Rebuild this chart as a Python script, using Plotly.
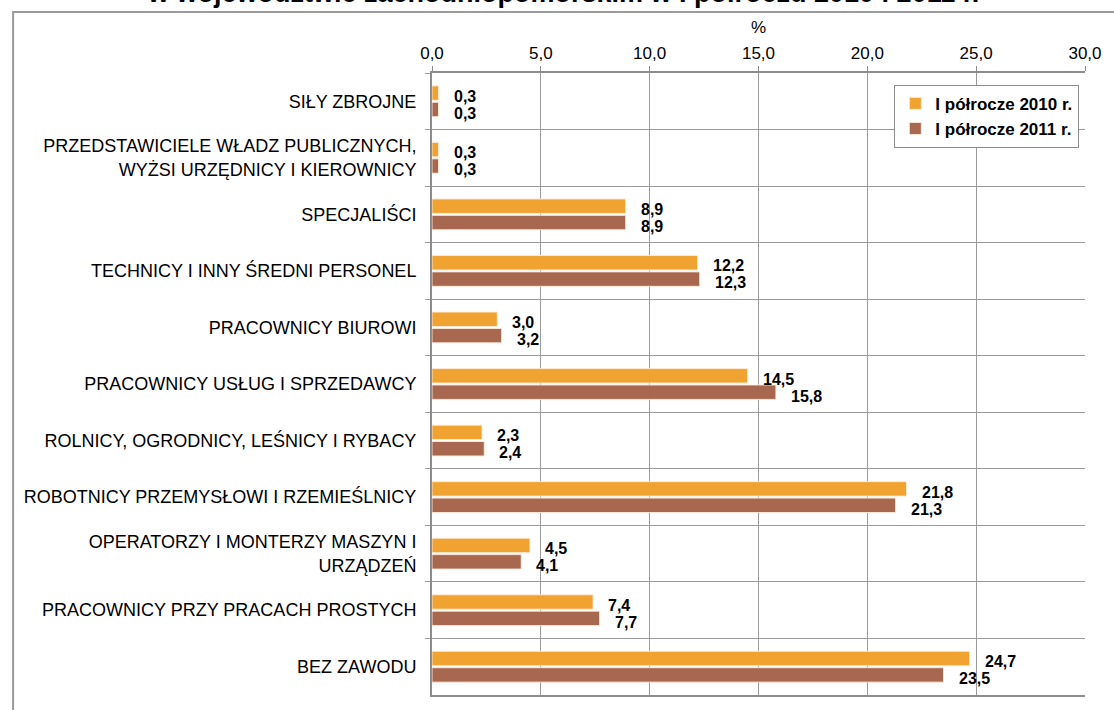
import plotly.graph_objects as go

categories = [
    "SIŁY ZBROJNE",
    "PRZEDSTAWICIELE WŁADZ PUBLICZNYCH,<br>WYŻSI URZĘDNICY I KIEROWNICY",
    "SPECJALIŚCI",
    "TECHNICY I INNY ŚREDNI PERSONEL",
    "PRACOWNICY BIUROWI",
    "PRACOWNICY USŁUG I SPRZEDAWCY",
    "ROLNICY, OGRODNICY, LEŚNICY I RYBACY",
    "ROBOTNICY PRZEMYSŁOWI I RZEMIEŚLNICY",
    "OPERATORZY I MONTERZY MASZYN I<br>URZĄDZEŃ",
    "PRACOWNICY PRZY PRACACH PROSTYCH",
    "BEZ ZAWODU",
]
values_2010 = [0.3, 0.3, 8.9, 12.2, 3.0, 14.5, 2.3, 21.8, 4.5, 7.4, 24.7]
values_2011 = [0.3, 0.3, 8.9, 12.3, 3.2, 15.8, 2.4, 21.3, 4.1, 7.7, 23.5]
series_names = ["I półrocze 2010 r.", "I półrocze 2011 r."]
x_ticks = [0, 5, 10, 15, 20, 25, 30]
title_text = "w województwie zachodniopomorskim w I półroczu 2010 i 2011 r."

C2010 = "#F0A330"
C2011 = "#A86850"
FONT = "Liberation Sans, Arial, sans-serif"

fig = go.Figure()
fig.add_trace(go.Bar(
    y=categories, x=values_2010, orientation="h", name=series_names[0],
    marker=dict(color=C2010, line=dict(color="rgba(255,235,220,0.9)", width=1)),
))
fig.add_trace(go.Bar(
    y=categories, x=values_2011, orientation="h", name=series_names[1],
    marker=dict(color=C2011, line=dict(color="rgba(255,235,220,0.9)", width=1)),
))

def fmt(v):
    return f"{v:.1f}".replace(".", ",")

annotations = []
for cat, v in zip(categories, values_2010):
    annotations.append(dict(x=v, y=cat, xref="x", yref="y", text=fmt(v),
                            showarrow=False, xanchor="left", yanchor="middle",
                            xshift=13, yshift=5,
                            font=dict(family=FONT, size=16, color="black", weight="bold")))
for cat, v in zip(categories, values_2011):
    annotations.append(dict(x=v, y=cat, xref="x", yref="y", text=fmt(v),
                            showarrow=False, xanchor="left", yanchor="middle",
                            xshift=13, yshift=-12,
                            font=dict(family=FONT, size=16, color="black", weight="bold")))

# cut-off title line at the very top
annotations.append(dict(x=0.2, y=1.1012, xref="paper", yref="paper", text=title_text,
                        showarrow=False, xanchor="center", yanchor="bottom",
                        font=dict(family=FONT, size=27, color="black", weight="bold")))

fig.update_layout(
    width=1114, height=710,
    margin=dict(l=432, r=21, t=73, b=15, pad=0),
    paper_bgcolor="white", plot_bgcolor="white",
    barmode="group", bargap=0.42, bargroupgap=0.12,
    separators=", ",
    font=dict(family=FONT, size=17, color="black"),
    showlegend=True,
    legend=dict(x=0.708, y=0.981, xanchor="left", yanchor="top",
                bgcolor="white", bordercolor="#8c8c8c", borderwidth=1,
                traceorder="normal",
                font=dict(family=FONT, size=17, color="black", weight="bold")),
    annotations=annotations,
    shapes=[dict(type="rect", xref="paper", yref="paper",
                 x0=-0.6415, x1=1.2, y0=-0.2, y1=1.098,
                 line=dict(color="#9a9a9a", width=2), fillcolor="rgba(0,0,0,0)",
                 layer="below")],
)

fig.update_xaxes(
    side="top", range=[0, 30], tickvals=x_ticks,
    ticktext=[fmt(t) for t in x_ticks],
    showgrid=True, gridcolor="#9a9a9a", gridwidth=1,
    showline=True, linecolor="#8c8c8c", linewidth=2, mirror=True,
    ticks="outside", ticklen=5, tickcolor="#8c8c8c",
    zeroline=False,
    tickfont=dict(family=FONT, size=17, color="black"),
    title=dict(text="%", standoff=6, font=dict(family=FONT, size=17, color="black")),
)
fig.update_yaxes(
    type="category", autorange="reversed", tickson="boundaries",
    showgrid=True, gridcolor="#9a9a9a", gridwidth=1,
    showline=True, linecolor="#8c8c8c", linewidth=2,
    ticks="outside", ticklen=5, tickcolor="#9a9a9a",
    ticklabelstandoff=10,
    tickfont=dict(family=FONT, size=18, color="black"),
)

fig.write_html("out.html", config={"displayModeBar": False},
               post_script="document.body.style.margin='0';document.body.style.overflow='hidden';")
